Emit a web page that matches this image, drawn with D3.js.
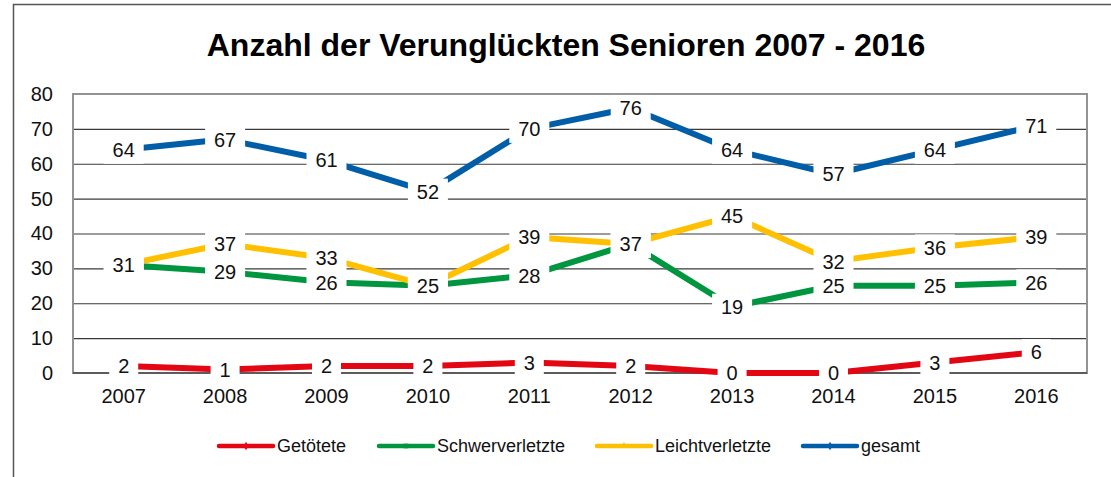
<!DOCTYPE html>
<html>
<head>
<meta charset="utf-8">
<script src="https://cdn.jsdelivr.net/npm/d3@7"></script>
<style>
  body { margin: 0; background: #fff; }
  svg { display: block; font-family: "Liberation Sans", Arial, sans-serif; }
</style>
</head>
<body>
<div id="container"></div>
<script>
var years = ['2007', '2008', '2009', '2010', '2011', '2012', '2013', '2014', '2015', '2016'];
var getoetete = [2, 1, 2, 2, 3, 2, 0, 0, 3, 6];
var schwerverletzte = [31, 29, 26, 25, 28, 37, 19, 25, 25, 26];
var leichtverletzte = [31, 37, 33, 25, 39, 37, 45, 32, 36, 39];
var gesamt = [64, 67, 61, 52, 70, 76, 64, 57, 64, 71];
var seriesNames = ['Getötete', 'Schwerverletzte', 'Leichtverletzte', 'gesamt'];
var yTicks = [0, 10, 20, 30, 40, 50, 60, 70, 80];

var colors = ['#e30613', '#009640', '#ffc000', '#005ea8'];
var series = [getoetete, schwerverletzte, leichtverletzte, gesamt].map(function(values, i) {
  return { name: seriesNames[i], color: colors[i], values: values };
});

var W = 1111, H = 477;
var plot = { left: 73, right: 1087, top: 94, bottom: 373 };

var svg = d3.select('#container').append('svg')
  .attr('width', W)
  .attr('height', H);

// outer chart frame (runs off right / bottom edge)
svg.append('path')
  .attr('d', 'M13.5,' + (H + 2) + 'V4.5H' + (W + 2))
  .attr('fill', 'none')
  .attr('stroke', '#555')
  .attr('stroke-width', 1.5);

svg.append('text')
  .attr('x', 566)
  .attr('y', 56)
  .attr('text-anchor', 'middle')
  .attr('font-size', 32)
  .attr('font-weight', 'bold')
  .attr('fill', '#000')
  .text('Anzahl der Verunglückten Senioren 2007 - 2016');

var x = d3.scaleBand().domain(years).range([plot.left, plot.right]);
var y = d3.scaleLinear().domain([0, 80]).range([plot.bottom, plot.top]);
var cx = function(d) { return x(d) + x.bandwidth() / 2; };

// gridlines
svg.append('g')
  .attr('transform', 'translate(' + plot.left + ',0)')
  .call(d3.axisLeft(y).tickValues(yTicks.slice(1, -1)).tickSize(-(plot.right - plot.left)).tickFormat(''))
  .call(function(g) { g.select('.domain').remove(); })
  .selectAll('line')
  .attr('stroke', '#3a3a3a')
  .attr('stroke-width', 1.2);

// plot frame
svg.append('rect')
  .attr('x', plot.left)
  .attr('y', plot.top)
  .attr('width', plot.right - plot.left)
  .attr('height', plot.bottom - plot.top)
  .attr('fill', 'none')
  .attr('stroke', '#939393')
  .attr('stroke-width', 2);

svg.append('line')
  .attr('x1', plot.left).attr('x2', plot.right)
  .attr('y1', plot.bottom).attr('y2', plot.bottom)
  .attr('stroke', '#4a4a4a')
  .attr('stroke-width', 1.5);

// y tick labels
svg.append('g')
  .attr('transform', 'translate(' + plot.left + ',0)')
  .call(d3.axisLeft(y).tickValues(yTicks).tickSize(0).tickPadding(20))
  .call(function(g) { g.select('.domain').remove(); })
  .selectAll('text')
  .attr('font-size', 20)
  .attr('font-family', '"Liberation Sans", Arial, sans-serif')
  .attr('fill', '#111');

// x tick labels
svg.append('g')
  .attr('transform', 'translate(0,' + plot.bottom + ')')
  .call(d3.axisBottom(x).tickSize(0).tickPadding(16))
  .call(function(g) { g.select('.domain').remove(); })
  .selectAll('text')
  .attr('font-size', 20)
  .attr('font-family', '"Liberation Sans", Arial, sans-serif')
  .attr('fill', '#111');

var line = d3.line()
  .x(function(d, i) { return cx(years[i]); })
  .y(function(d) { return y(d); });

svg.append('g').selectAll('path')
  .data(series)
  .enter()
  .append('path')
  .attr('d', function(s) { return line(s.values); })
  .attr('fill', 'none')
  .attr('stroke', function(s) { return s.color; })
  .attr('stroke-width', 6)
  .attr('stroke-linejoin', 'round');

// data labels with white boxes
var labels = [];
series.forEach(function(s) {
  s.values.forEach(function(v, i) { labels.push({ year: years[i], value: v }); });
});

var labelGroup = svg.append('g').selectAll('g')
  .data(labels)
  .enter()
  .append('g')
  .attr('transform', function(d) { return 'translate(' + cx(d.year) + ',' + y(d.value) + ')'; });

labelGroup.append('rect')
  .attr('x', function(d) { return String(d.value).length > 1 ? -20 : -14.5; })
  .attr('y', -13)
  .attr('width', function(d) { return String(d.value).length > 1 ? 40 : 29; })
  .attr('height', 27)
  .attr('fill', '#fff');

labelGroup.append('text')
  .attr('text-anchor', 'middle')
  .attr('dy', '0.36em')
  .attr('font-size', 20)
  .attr('fill', '#111')
  .text(function(d) { return d.value; });

// legend
var legendX = [219, 379, 597, 803];
var symbols = [d3.symbolDiamond, d3.symbolSquare, d3.symbolTriangle, d3.symbolDiamond];
var legend = svg.append('g').selectAll('g')
  .data(series)
  .enter()
  .append('g')
  .attr('transform', function(d, i) { return 'translate(' + legendX[i] + ',446)'; });

legend.append('line')
  .attr('x1', 0).attr('x2', 54)
  .attr('stroke', function(d) { return d.color; })
  .attr('stroke-width', 4.5)
  .attr('stroke-linecap', 'round');

legend.append('path')
  .attr('transform', 'translate(27,0)')
  .attr('d', function(d, i) { return d3.symbol().type(symbols[i]).size(22)(); })
  .attr('fill', function(d) { return d.color; });

legend.append('text')
  .attr('x', 58)
  .attr('dy', '0.36em')
  .attr('font-size', 18)
  .attr('fill', '#111')
  .text(function(d) { return d.name; });
</script>
</body>
</html>
